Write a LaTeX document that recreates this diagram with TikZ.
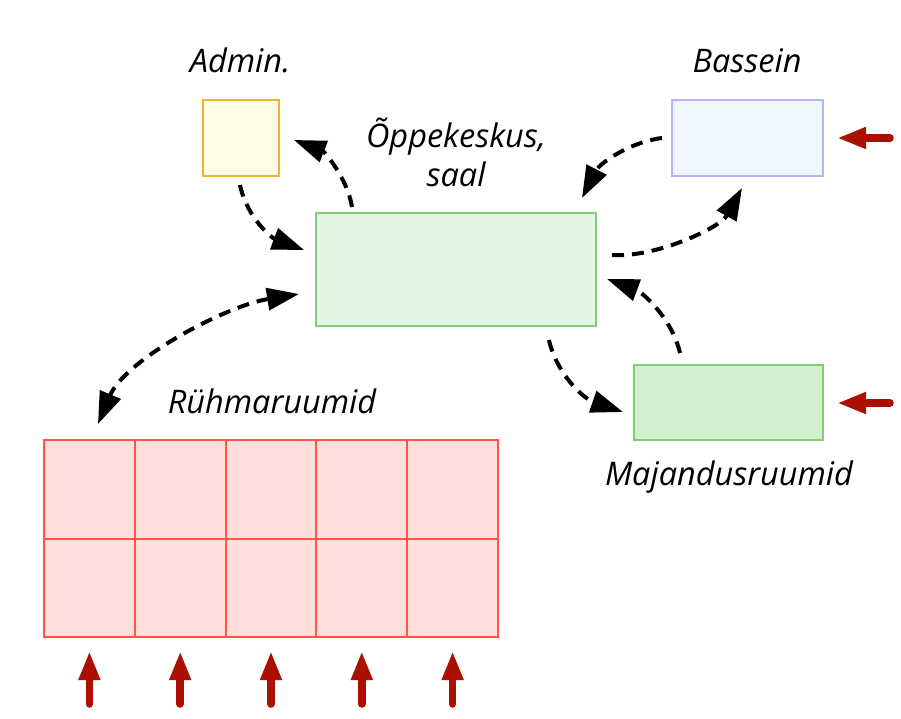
\documentclass[tikz,border=0pt]{standalone}
\usepackage{fontspec}
\setmainfont{Open Sans}
\usetikzlibrary{arrows.meta}
\definecolor{admfill}{HTML}{FFFDE6}
\definecolor{admline}{HTML}{EDB430}
\definecolor{mainfill}{HTML}{E3F6E3}
\definecolor{grline}{HTML}{85CC78}
\definecolor{basfill}{HTML}{F1F7FF}
\definecolor{basline}{HTML}{B5B5FF}
\definecolor{majfill}{HTML}{D1F0D0}
\definecolor{rfill}{HTML}{FFDEDB}
\definecolor{rline}{HTML}{FF5546}
\definecolor{darkred}{HTML}{AA0F00}
\tikzset{
  room/.style={draw, line width=1.3pt, inner sep=0pt, outer sep=0pt},
  lbl/.style={font=\itshape\fontsize{32.5}{40}\selectfont, anchor=base, inner sep=0pt},
  flow/.style={line width=4pt, dash pattern=on 12pt off 8pt, -{Triangle[length=32pt,width=22pt]}},
  flow2/.style={line width=4pt, dash pattern=on 12pt off 8pt, {Triangle[length=32pt,width=22pt]}-{Triangle[length=32pt,width=22pt]}},
  entry/.style={line width=7.5pt, darkred, line cap=round, -{Triangle[length=29pt,width=20pt]}},
}
\begin{document}
\begin{tikzpicture}[x=1pt,y=-1pt]
\useasboundingbox (0,0) rectangle (901,719);
% rooms
\node[room, draw=admline, fill=admfill, minimum width=76pt, minimum height=76pt] (adm) at (241,138) {};
\node[room, draw=grline, fill=mainfill, minimum width=280pt, minimum height=113pt] (main) at (456,269.5) {};
\node[room, draw=basline, fill=basfill, minimum width=151pt, minimum height=76pt] (bas) at (747.5,138) {};
\node[room, draw=grline, fill=majfill, minimum width=189pt, minimum height=75pt] (maj) at (728.5,402.5) {};
\foreach \r in {0,1}{
  \foreach \c in {0,...,4}{
    \node[room, draw=rline, fill=rfill, line width=2pt, minimum width=90.8pt, minimum height=98.5pt]
      (cell-\r-\c) at ({44+90.8*\c+45.4},{440+98.5*\r+49.25}) {};
  }
}
% labels
\node[lbl] (admlbl) at (240,73) {Admin.};
\node[lbl] (mainlbl1) at (456,148) {Õppekeskus,};
\node[lbl] (mainlbl2) at (456,187) {saal};
\node[lbl] (baslbl) at (747,73) {Bassein};
\node[lbl] (majlbl) at (729,485) {Majandusruumid};
\node[lbl] (rlbl) at (272,413) {Rühmaruumid};
% connector endpoints
\coordinate (a1) at (240,185); \coordinate (m1) at (304,250);
\coordinate (m2) at (352,207); \coordinate (a2) at (294,140);
\coordinate (b3) at (662,138); \coordinate (m3) at (582,198);
\coordinate (m4) at (612,255); \coordinate (b4) at (742,188);
\coordinate (j5) at (680,353); \coordinate (m5) at (607,279);
\coordinate (m6) at (549,340); \coordinate (j6) at (623,412);
\coordinate (m7) at (299,294); \coordinate (r7) at (98,424);
% flows
\draw[flow] (a1) .. controls (247,218) and (272,238) .. (m1);
\draw[flow] (m2) .. controls (348,180) and (325,152) .. (a2);
\draw[flow] (b3) .. controls (630,142) and (600,163) .. (m3);
\draw[flow] (m4) .. controls (655,258) and (720,228) .. (b4);
\draw[flow] (j5) .. controls (672,318) and (642,292) .. (m5);
\draw[flow] (m6) .. controls (556,372) and (582,398) .. (j6);
\draw[flow2] (m7) .. controls (225,306) and (125,360) .. (r7);
% entries
\foreach \c [count=\i] in {0,...,4}{
  \coordinate (up\i s) at ({89.4+90.8*\c},704);
  \coordinate (up\i e) at ({89.4+90.8*\c},651);
  \draw[entry] (up\i s) -- (up\i e);
}
\coordinate (e1s) at (890,138); \coordinate (e1e) at (837,138);
\coordinate (e2s) at (890,403); \coordinate (e2e) at (837,403);
\draw[entry] (e1s) -- (e1e);
\draw[entry] (e2s) -- (e2e);
\end{tikzpicture}
\end{document}
